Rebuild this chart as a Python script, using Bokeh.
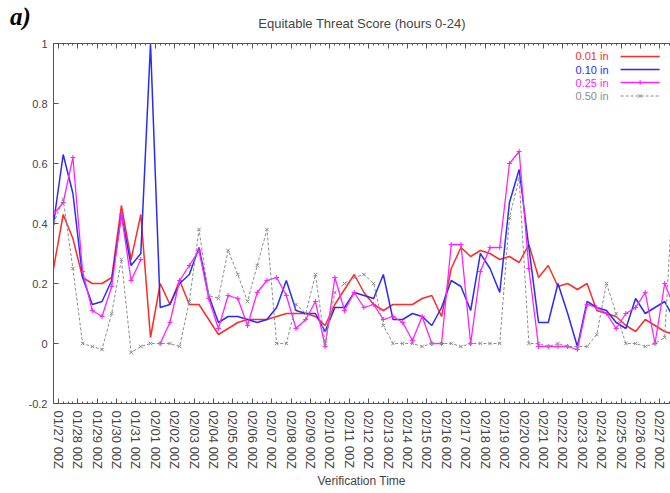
from bokeh.plotting import figure
from bokeh.models import (FixedTicker, LinearAxis, Label, CustomJSTickFormatter, Range1d, Div)
from bokeh.layouts import column
from bokeh.embed import file_html
from bokeh.resources import INLINE

nan = float("nan")

# x tick labels (one per day, 00Z)
date_labels = ["01/27 00Z", "01/28 00Z", "01/29 00Z", "01/30 00Z", "01/31 00Z",
               "02/01 00Z", "02/02 00Z", "02/03 00Z", "02/04 00Z", "02/05 00Z",
               "02/06 00Z", "02/07 00Z", "02/08 00Z", "02/09 00Z", "02/10 00Z",
               "02/11 00Z", "02/12 00Z", "02/13 00Z", "02/14 00Z", "02/15 00Z",
               "02/16 00Z", "02/17 00Z", "02/18 00Z", "02/19 00Z", "02/20 00Z",
               "02/21 00Z", "02/22 00Z", "02/23 00Z", "02/24 00Z", "02/25 00Z",
               "02/26 00Z", "02/27 00Z"]

# verification times, in days after 01/27 00Z (every 12 h)
verif_days = [-0.25, 0.25, 0.75, 1.25, 1.75, 2.25, 2.75, 3.25, 3.75, 4.25,
              4.75, 5.25, 5.75, 6.25, 6.75, 7.25, 7.75, 8.25, 8.75, 9.25,
              9.75, 10.25, 10.75, 11.25, 11.75, 12.25, 12.75, 13.25, 13.75, 14.25,
              14.75, 15.25, 15.75, 16.25, 16.75, 17.25, 17.75, 18.25, 18.75, 19.25,
              19.75, 20.25, 20.75, 21.25, 21.75, 22.25, 22.75, 23.25, 23.75, 24.25,
              24.75, 25.25, 25.75, 26.25, 26.75, 27.25, 27.75, 28.25, 28.75, 29.25,
              29.75, 30.25, 30.75, 31.25, 31.75]

ets_001 = [0.25, 0.43, 0.35, 0.22, 0.20, 0.20, 0.22, 0.46, 0.28, 0.43,
           0.02, 0.20, 0.13, 0.21, 0.13, 0.13, 0.08, 0.03, 0.05, 0.07,
           0.08, 0.08, 0.08, 0.09, 0.10, 0.10, 0.10, 0.09, 0.06, 0.13,
           0.18, 0.23, 0.17, 0.13, 0.11, 0.13, 0.13, 0.13, 0.15, 0.16,
           0.09, 0.25, 0.32, 0.29, 0.31, 0.30, 0.28, 0.29, 0.27, 0.33,
           0.22, 0.26, 0.19, 0.20, 0.18, 0.20, 0.11, 0.10, 0.09, 0.06,
           0.04, 0.08, 0.06, 0.04, 0.03]

ets_010 = [0.40, 0.63, 0.50, 0.22, 0.13, 0.14, 0.21, 0.43, 0.26, 0.30,
           1.00, 0.12, 0.13, 0.20, 0.23, 0.32, 0.16, 0.07, 0.09, 0.09,
           0.08, 0.07, 0.08, 0.12, 0.21, 0.11, 0.10, 0.10, 0.04, 0.12,
           0.12, 0.17, 0.16, 0.15, 0.23, 0.08, 0.08, 0.10, 0.09, 0.06,
           0.12, 0.21, 0.19, 0.11, 0.30, 0.25, 0.17, 0.47, 0.58, 0.32,
           0.07, 0.07, 0.20, 0.10, -0.01, 0.14, 0.12, 0.11, 0.07, 0.05,
           0.15, 0.10, 0.12, 0.14, 0.08]

ets_025 = [0.43, 0.47, 0.62, 0.24, 0.11, 0.09, 0.19, 0.43, 0.21, 0.28,
           nan, 0.00, 0.07, 0.21, 0.26, 0.31, 0.15, 0.05, 0.16, 0.15,
           0.06, 0.17, 0.21, 0.22, 0.16, 0.05, 0.08, 0.14, -0.01, 0.22,
           0.11, 0.17, 0.12, 0.13, 0.08, 0.09, 0.07, 0.01, 0.09, 0.00,
           0.00, 0.33, 0.33, 0.00, 0.24, 0.32, 0.32, 0.60, 0.64, 0.25,
           -0.01, -0.01, -0.01, -0.01, -0.02, 0.13, 0.12, 0.10, 0.05, 0.10,
           0.12, 0.17, 0.00, 0.20, 0.12]

ets_050 = [0.40, 0.48, 0.25, 0.00, -0.01, -0.02, 0.10, 0.28, -0.03, -0.01,
           0.00, 0.00, 0.00, -0.01, 0.14, 0.38, 0.16, 0.15, 0.31, 0.23,
           0.14, 0.26, 0.38, 0.00, 0.00, 0.13, 0.10, 0.23, 0.00, 0.17,
           0.20, 0.22, 0.23, 0.20, 0.06, 0.00, 0.00, 0.00, -0.01, 0.00,
           0.00, 0.00, -0.01, 0.00, 0.00, 0.00, 0.00, 0.42, 0.55, 0.00,
           0.00, -0.01, 0.00, -0.01, -0.01, -0.01, 0.03, 0.20, 0.10, 0.00,
           0.00, -0.01, 0.00, 0.02, 0.60]

series_names = ["0.01 in", "0.10 in", "0.25 in", "0.50 in"]
series_colors = ["#ff2a2a", "#2a2aff", "#ff22ff", "#8c8c8c"]
y_ticks = [-0.2, 0.0, 0.2, 0.4, 0.6, 0.8, 1.0]

FONT = "Liberation Sans"
AXIS_COLOR = "#555555"
TEXT_COLOR = "#444444"

X_START, X_END = -0.25, 31.55
p = figure(width=670, height=490, output_backend="svg", toolbar_location=None,
           x_range=Range1d(X_START, X_END), y_range=Range1d(-0.2, 1.0),
           min_border_left=53, min_border_right=0, min_border_top=43,
           min_border_bottom=87)
p.outline_line_color = None
p.xgrid.visible = False
p.ygrid.visible = False
p.background_fill_color = "white"
p.border_fill_color = "white"

p.title.text = "Equitable Threat Score (hours 0-24)"
p.title.align = "center"
p.title.text_font = FONT
p.title.text_font_size = "13px"
p.title.text_font_style = "normal"
p.title.text_color = TEXT_COLOR
p.title.standoff = 26

day_ticks = list(range(len(date_labels)))
quarter_ticks = [d / 4 for d in range(-1, 4 * len(date_labels) + 3)]
xt = FixedTicker(ticks=day_ticks, minor_ticks=quarter_ticks)

xa = p.xaxis[0]
xa.ticker = xt
xa.major_label_overrides = {i: s for i, s in enumerate(date_labels)}
xa.major_label_orientation = "vertical"

ya = p.yaxis[0]
ya.ticker = FixedTicker(ticks=y_ticks)
ya.formatter = CustomJSTickFormatter(code="return String(Math.round(tick*10)/10);")

for ax in (xa, ya):
    ax.axis_line_color = AXIS_COLOR
    ax.major_tick_line_color = AXIS_COLOR
    ax.minor_tick_line_color = AXIS_COLOR
    ax.major_tick_in = 5
    ax.major_tick_out = 0
    ax.minor_tick_in = 2
    ax.minor_tick_out = 0
    ax.major_label_text_font = FONT
    ax.major_label_text_font_size = "11px"
    ax.major_label_text_color = TEXT_COLOR
    ax.major_label_standoff = 6
ya.minor_tick_line_color = None
xa.major_label_text_font_size = "13px"
xa.major_label_standoff = 7

top = LinearAxis(ticker=FixedTicker(ticks=day_ticks, minor_ticks=quarter_ticks),
                 formatter=CustomJSTickFormatter(code="return '';"),
                 major_label_standoff=0,
                 axis_line_color=AXIS_COLOR, major_tick_line_color=AXIS_COLOR,
                 minor_tick_line_color=AXIS_COLOR,
                 major_tick_in=5, major_tick_out=0, minor_tick_in=2, minor_tick_out=0)
p.add_layout(top, "above")

# data lines
p.line(verif_days, ets_001, line_color=series_colors[0], line_width=1.5)
p.line(verif_days, ets_010, line_color=series_colors[1], line_width=1.5)
p.line(verif_days, ets_025, line_color=series_colors[2], line_width=1.3)
p.scatter(verif_days, ets_025, marker="cross", size=5, line_color=series_colors[2], line_width=1)
p.line(verif_days, ets_050, line_color=series_colors[3], line_width=1, line_dash="3 2")
p.scatter(verif_days, ets_050, marker="x", size=5, line_color=series_colors[3], line_width=1)

# legend (gnuplot style: label then sample), top right inside the frame
leg_text_x = 28.36
leg_x0, leg_x1 = 28.98, 30.99
leg_rows = [0.957, 0.913, 0.870, 0.825]
for i, (name, col) in enumerate(zip(series_names, series_colors)):
    p.add_layout(Label(x=leg_text_x, y=leg_rows[i], text=name, text_align="right",
                       text_baseline="middle", text_font=FONT, text_font_size="11px",
                       text_color=col))
p.segment(x0=[leg_x0] * 3, x1=[leg_x1] * 3, y0=leg_rows[:3], y1=leg_rows[:3],
          line_color=series_colors[:3], line_width=1.5)
p.scatter([(leg_x0 + leg_x1) / 2], [leg_rows[2]], marker="cross", size=5,
          line_color=series_colors[2])
p.segment(x0=[leg_x0], x1=[leg_x1], y0=[leg_rows[3]], y1=[leg_rows[3]],
          line_color=series_colors[3], line_width=1, line_dash="3 2")
p.scatter([(leg_x0 + leg_x1) / 2], [leg_rows[3]], marker="x", size=5,
          line_color=series_colors[3])

# panel tag "a)" overlaid at the top-left corner
tag = Div(text="a)", margin=0, width=0, height=0,
          styles={"position": "absolute", "left": "10px", "top": "3px",
                  "font-family": "Liberation Serif", "font-size": "25px",
                  "font-weight": "bold", "font-style": "italic",
                  "color": "black", "z-index": "10", "line-height": "normal",
                  "overflow": "visible", "white-space": "nowrap"})

# x-axis title, placed under the rotated date labels
xtitle = Div(text="Verification Time", margin=0, width=0, height=0,
             styles={"position": "absolute", "left": "53px", "top": "474px",
                     "width": "617px", "text-align": "center",
                     "font-family": FONT, "font-size": "12px", "color": TEXT_COLOR,
                     "z-index": "10", "line-height": "normal",
                     "overflow": "visible", "white-space": "nowrap"})

layout = column(tag, xtitle, p)
open("out.html", "w").write(file_html(layout, INLINE))
